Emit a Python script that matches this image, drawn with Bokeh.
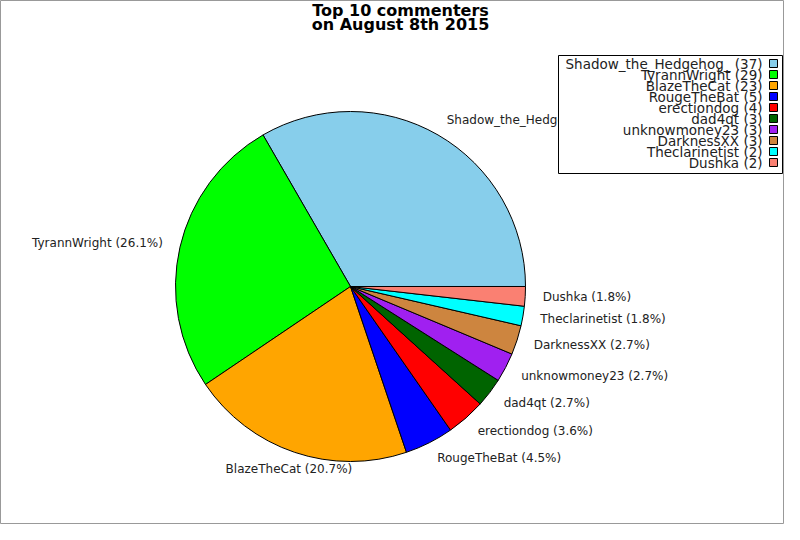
import numpy as np
from bokeh.plotting import figure
from bokeh.models import Range1d, ColumnDataSource
from bokeh.core.properties import value
from bokeh.embed import file_html
from bokeh.resources import INLINE

# ---- data ----
names = ["Shadow_the_Hedgehog_", "TyrannWright", "BlazeTheCat", "RougeTheBat",
         "erectiondog", "dad4qt", "unknowmoney23", "DarknessXX",
         "Theclarinetist", "Dushka"]
counts = [37, 29, 23, 5, 4, 3, 3, 3, 2, 2]
colors = ["#87CEEB", "#00FF00", "#FFA500", "#0000FF", "#FF0000",
          "#006400", "#A020F0", "#CD853F", "#00FFFF", "#FA8072"]
title_lines = ["Top 10 commenters", "on August 8th 2015"]

W, H = 784, 524
FONT = "DejaVu Sans"

def D(px_x, px_y):
    """figure pixel (from top-left) -> data coordinates"""
    return px_x, H - px_y

p = figure(width=W, height=H, output_backend="svg", toolbar_location=None,
           x_range=Range1d(0, W), y_range=Range1d(0, H), min_border=0)
p.axis.visible = False
p.grid.visible = False
p.outline_line_color = "#999999"
p.outline_line_width = 1
p.background_fill_color = "white"
p.border_fill_color = "white"

# ---- pie ----
cx, cy = D(350, 286)
R = 175.0
vals = np.array(counts, dtype=float)
total = vals.sum()
frac = vals / total
ends = np.cumsum(frac) * 2 * np.pi
starts = np.concatenate([[0.0], ends[:-1]])
mids = (starts + ends) / 2

src = ColumnDataSource(dict(start=starts, end=ends, color=colors))
p.wedge(x=cx, y=cy, radius=R, start_angle="start", end_angle="end",
        fill_color="color", line_color="black", line_width=1, source=src)

# ---- pie labels ----
lr = 1.1 * R
lx = cx + lr * np.cos(mids)
ly = cy + lr * np.sin(mids)
aligns = []
for m in mids:
    c = np.cos(m)
    if abs(c) < 0.4:
        aligns.append("center")
    elif c > 0:
        aligns.append("left")
    else:
        aligns.append("right")
labels = [f"{n} ({f*100:.1f}%)" for n, f in zip(names, frac)]
lsrc = ColumnDataSource(dict(x=lx, y=ly, text=labels, align=aligns))
p.text(x="x", y="y", text="text", text_align="align", text_baseline="middle",
       text_font=value(FONT), text_font_size="12px", text_color="#222222",
       source=lsrc)

# ---- legend (drawn over labels) ----
bx0, by0 = D(558, 55)
bx1, by1 = D(782, 173)
p.quad(left=bx0, right=bx1, top=by0, bottom=by1, fill_color="white",
       line_color="black", line_width=1)
rows = np.arange(len(names))
tx, ty0 = D(762, 63)
sx, _ = D(773, 63)
leg_y = ty0 - 11 * rows
leg_text = [f"{n} ({c})" for n, c in zip(names, counts)]
gsrc = ColumnDataSource(dict(x=[tx] * len(names), sx=[sx] * len(names),
                             y=leg_y, text=leg_text, color=colors))
p.text(x="x", y="y", text="text", text_align="right", text_baseline="middle",
       text_font=value(FONT), text_font_size="13.5px", text_color="#222222",
       source=gsrc)
p.rect(x="sx", y="y", width=8, height=8, fill_color="color",
       line_color="black", line_width=1, source=gsrc)

# ---- title ----
t1x, t1y = D(400, 10)
tsrc = ColumnDataSource(dict(x=[t1x, t1x], y=[t1y, t1y - 14], text=title_lines))
p.text(x="x", y="y", text="text", text_align="center", text_baseline="middle",
       text_font=value(FONT), text_font_size="16px", text_font_style="bold",
       text_color="black", source=tsrc)

open("out.html", "w").write(file_html(p, INLINE))
